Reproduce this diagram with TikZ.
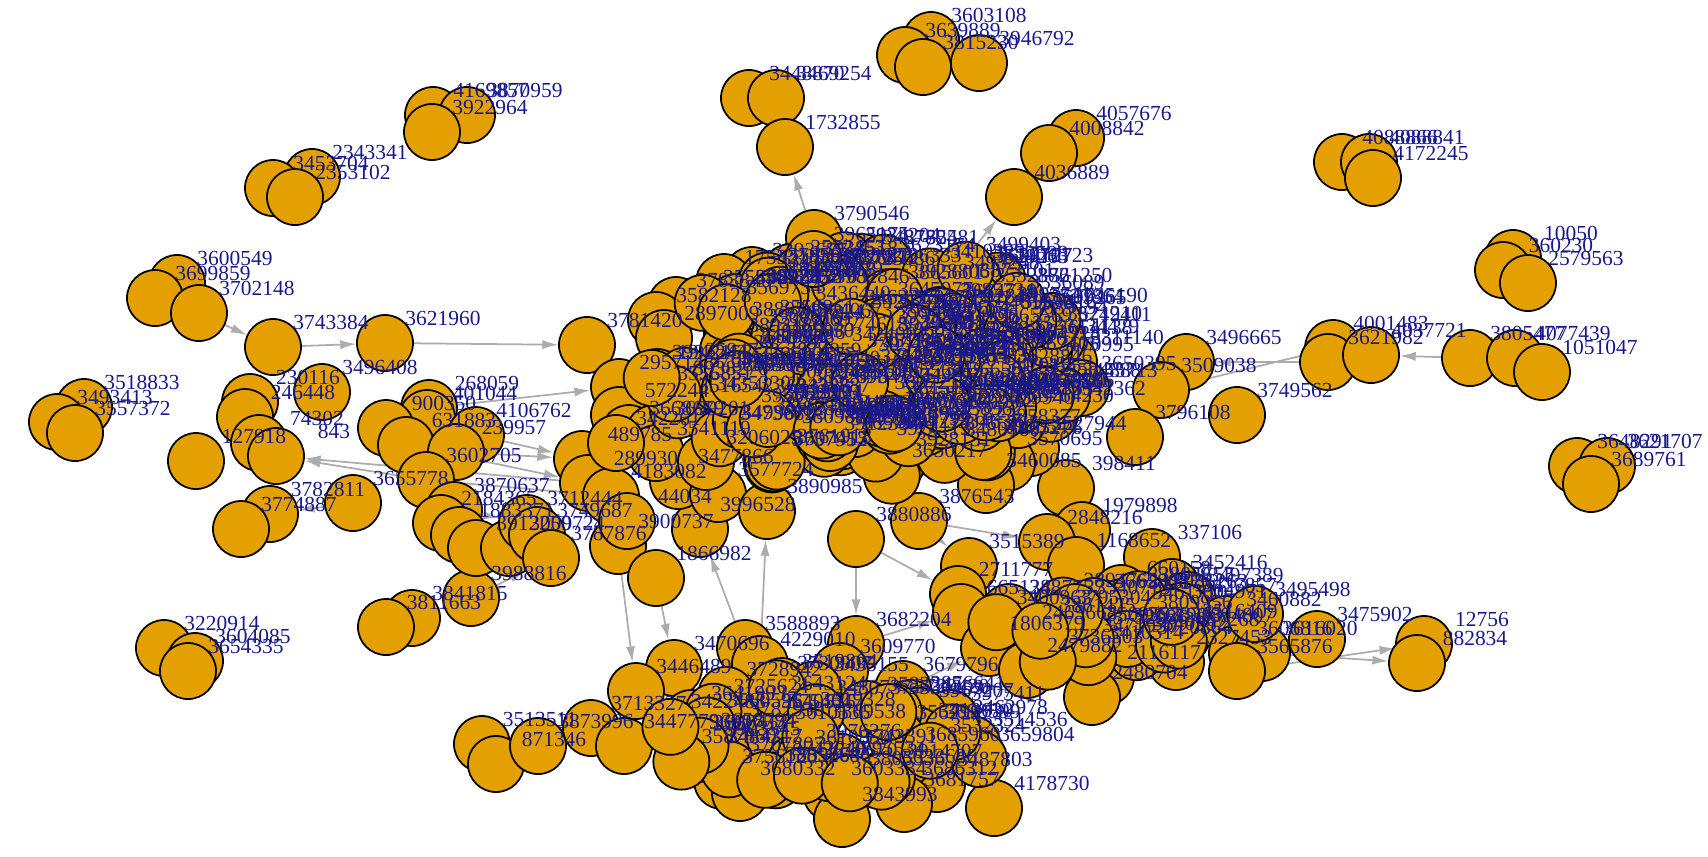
\documentclass[tikz,border=0pt]{standalone}
\usepackage{fontspec}
\setmainfont{Liberation Serif}
\usetikzlibrary{arrows.meta}
\pgfdeclarelayer{background}
\pgfsetlayers{background,main}
\definecolor{vfill}{RGB}{227,160,0}
\definecolor{vlab}{RGB}{25,25,140}
\definecolor{edgec}{RGB}{172,172,172}
\tikzset{
  vtx/.style={circle,draw=black,line width=0.5pt,fill=vfill,minimum size=0.56cm,inner sep=0pt},
  lbl/.style={text=vlab,font=\fontsize{6.1}{6.1}\selectfont,inner sep=0pt},
  lnk/.style={draw=edgec,line width=0.5pt,-{Latex[length=4.5pt,width=2.6pt]}}
}
% vertices: x/y/id (pixel grid, y down)
\def\vlist{433/115/4169857, 467/115/3870959, 432/132/3922964,
  312/177/2343341, 273/188/3453704, 295/197/2353102,
  177/283/3600549, 155/298/3699859, 199/313/3702148,
  273/347/3743384, 385/343/3621960, 322/392/3496408,
  250/402/230116, 245/417/246448, 84/407/3518833, 57/422/3493413, 75/433/3557372,
  259/443/74302, 196/461/127918, 276/456/843,
  270/514/3782811, 241/529/3774887, 353/503/3655778,
  471/598/3988816, 412/618/3841815, 386/627/3811663,
  164/648/3220914, 195/661/3604085, 188/671/3654335,
  482/744/3513511, 496/764/871346, 538/746/3873996,
  429/408/268059, 427/418/401044, 386/428/900350, 476/435/4106762,
  406/445/631883, 456/452/239957, 426/480/3602705, 454/510/3870637,
  441/523/2184365, 459/535/1883371, 476/548/3912250, 509/548/3009724,
  527/523/3712444, 537/535/3749687, 551/558/3787876, 618/546/3900737,
  582/459/489785, 588/483/289930, 611/496/4183082, 627/521/44034,
  656/578/1866982, 700/529/3996528, 678/481/3477866, 718/494/3577724,
  856/539/3880886, 767/511/3890985, 919/521/3876543, 1066/488/398411,
  969/566/3515389, 958/594/2711777, 961/612/665128, 1009/612/3487757,
  745/648/3588893, 760/664/4229010, 856/644/3682204, 674/668/3470696,
  636/691/3446489, 591/728/3713327, 691/718/3641993, 624/746/3447779,
  782/686/3519804, 840/671/3609770, 903/689/3679796, 771/708/3643124,
  867/709/3583245, 910/708/3876641, 950/718/3975411, 729/734/3782930,
  800/724/3619328, 707/761/3484317, 722/781/3756120, 740/793/3680332,
  831/793/3603334, 902/793/3686312, 842/819/3843993, 994/808/4178730,
  937/784/3487803, 972/744/3514536, 925/736/3698599, 979/759/3659804,
  905/759/3685960, 904/804/3681757,
  1082/530/1979898, 1047/542/2848216, 1076/565/1168652, 1152/557/337106,
  1121/593/660158, 1172/587/3452416, 1188/600/3497389, 1122/607/841176,
  1132/617/3461710, 1022/637/2469668, 989/648/1806379, 1027/670/2479882,
  1106/677/2116117, 1092/697/2480704, 1082/650/3471930, 1132/648/3840332,
  1182/636/3516409, 1176/662/2327453, 1226/624/3460882, 1237/653/3606816,
  1262/653/3616020, 1237/671/3565876, 1317/639/3475902, 1255/614/3495498,
  1424/644/12756, 1417/663/882834,
  1577/466/3648291, 1607/466/3621707, 1591/484/3689761,
  1342/162/4088866, 1369/162/4088841, 1373/178/4172245,
  1513/258/10050, 1503/270/360230, 1528/283/2579563,
  1333/348/4001483, 1328/362/3621982, 1371/355/4037721,
  1470/358/3805477, 1515/358/4077439, 1542/372/1051047,
  1186/362/3496665, 1161/390/3509038, 1237/415/3749562, 1135/437/3796108,
  931/40/3603108, 905/55/3639889, 979/63/3946792, 923/67/3815230,
  749/98/3448870, 776/98/3469254, 785/147/1732855, 814/238/3790546,
  1076/138/4057676, 1049/153/4008842, 1014/197/4036889,
  862/262/3487824, 944/287/3493248, 866/280/3796333, 959/295/3873101,
  1009/307/3536089, 1031/322/3609265, 1037/352/3654138, 1069/362/3311140,
  1081/388/3650395, 1031/448/3527944, 1007/463/3570695, 986/485/3460085,
  752/275/3393677, 724/282/1753218, 676/305/3783840, 656/320/3582128,
  587/345/3781420, 664/338/2897009, 619/387/2957143, 657/377/1942158,
  657/398/3556851, 619/415/572244, 629/433/3668679, 654/433/3699201,
  721/437/3499870, 656/453/3541119, 616/443/3422617, 706/462/3206025,
  796/437/3770284}
\begin{document}
\begin{tikzpicture}[x=0.01cm,y=-0.01cm]
  \useasboundingbox (0,0) rectangle (1708,856);
  \foreach \x/\y/\t in \vlist
    \node[vtx] (v\t) at (\x,\y) {};
  % dense core, inner core, south and south-east groups
  \pgfmathsetseed{4211}
  \foreach \i in {1,...,140}{
    \pgfmathsetmacro\rr{sqrt(rnd)}
    \pgfmathsetmacro\aa{360*rnd}
    \node[vtx] (c\i) at ({860+215*\rr*cos(\aa)},{365+112*\rr*sin(\aa)}) {};}
  \foreach \i in {1,...,60}{
    \pgfmathsetmacro\rr{sqrt(rnd)}
    \pgfmathsetmacro\aa{360*rnd}
    \node[vtx] (k\i) at ({870+150*\rr*cos(\aa)},{385+75*\rr*sin(\aa)}) {};}
  \foreach \i in {1,...,35}{
    \pgfmathsetmacro\rr{sqrt(rnd)}
    \pgfmathsetmacro\aa{360*rnd}
    \node[vtx] (s\i) at ({810+150*\rr*cos(\aa)},{740+55*\rr*sin(\aa)}) {};}
  \foreach \i in {1,...,20}{
    \pgfmathsetmacro\rr{sqrt(rnd)}
    \pgfmathsetmacro\aa{360*rnd}
    \node[vtx] (e\i) at ({1090+110*\rr*cos(\aa)},{630+40*\rr*sin(\aa)}) {};}
  \begin{pgfonlayer}{background}
    \foreach \a/\b in {3702148/3743384, 3743384/3621960, 3621960/3781420,
      289930/843, 3602705/843, 3655778/3782811, 3602705/4183082,
      4106762/489785, 239957/489785, 631883/289930, 268059/2957143,
      1883371/3712444, 2184365/3749687, 3870637/3712444,
      3841815/3988816, 3988816/3787876, 3790546/1732855, 3493248/4036889,
      3621982/3496665, 4001483/3509038, 3805477/4037721,
      3565876/12756, 3616020/882834, 1866982/3470696, 3900737/3446489,
      3588893/3996528, 4229010/3890985, 3880886/3682204,
      3880886/2711777, 3876543/3515389, 3876543/2848216,
      3679796/1806379, 3682204/665128, 3447779/3873996}
      \draw[lnk] (v\a) -- (v\b);
  \end{pgfonlayer}
  % labels go on top of every vertex
  \foreach \x/\y/\t in \vlist
    \node[lbl] (l\t) at ([shift={(58,-25)}]v\t.center) {\t};
  \foreach \i in {1,...,140}{
    \pgfmathtruncatemacro\ha{random(400,999)}
    \pgfmathtruncatemacro\hb{random(100,999)}
    \node[lbl] (cl\i) at ([shift={(58,-25)}]c\i.center) {3\ha\hb};}
  \foreach \i in {1,...,60}{
    \pgfmathtruncatemacro\ha{random(400,999)}
    \pgfmathtruncatemacro\hb{random(100,999)}
    \node[lbl] (kl\i) at ([shift={(58,-25)}]k\i.center) {3\ha\hb};}
  \foreach \i in {1,...,35}{
    \pgfmathtruncatemacro\ha{random(400,999)}
    \pgfmathtruncatemacro\hb{random(100,999)}
    \node[lbl] (sl\i) at ([shift={(58,-25)}]s\i.center) {3\ha\hb};}
  \foreach \i in {1,...,20}{
    \pgfmathtruncatemacro\ha{random(400,999)}
    \pgfmathtruncatemacro\hb{random(100,999)}
    \node[lbl] (el\i) at ([shift={(58,-25)}]e\i.center) {3\ha\hb};}
\end{tikzpicture}
\end{document}
